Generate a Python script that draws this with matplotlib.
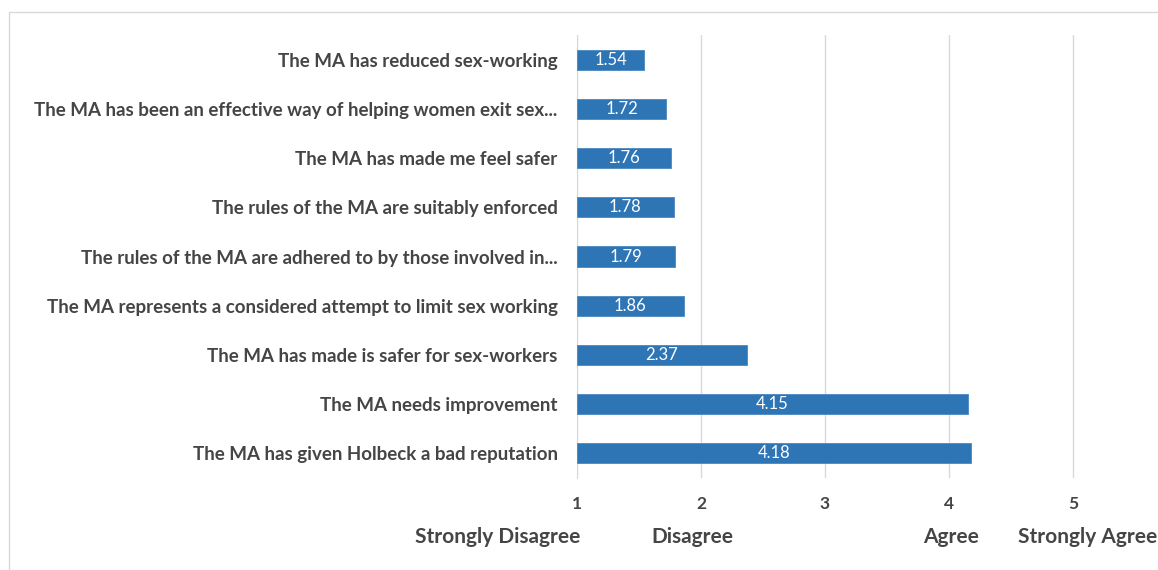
import numpy as np
import matplotlib.pyplot as plt
from matplotlib.patches import Rectangle
from matplotlib.transforms import blended_transform_factory

# Datos (de arriba hacia abajo)
afirmaciones = [
    "The MA has reduced sex-working",
    "The MA has been an effective way of helping women exit sex...",
    "The MA has made me feel safer",
    "The rules of the MA are suitably enforced",
    "The rules of the MA are adhered to by those involved in...",
    "The MA represents a considered attempt to limit sex working",
    "The MA has made is safer for sex-workers",
    "The MA needs improvement",
    "The MA has given Holbeck a bad reputation",
]
medias = np.array([1.54, 1.72, 1.76, 1.78, 1.79, 1.86, 2.37, 4.15, 4.18])
escala = [1, 2, 3, 4, 5]
etiquetas_escala = ["Strongly Disagree", "Disagree", "Agree", "Strongly Agree"]

gris = '#454545'
azul = '#2E75B6'
plt.rcParams['font.family'] = ['Lato', 'DejaVu Sans']
plt.rcParams['font.weight'] = 'bold'

fig = plt.figure(figsize=(11.58, 5.70), dpi=100)
W, H = 1158, 570
ax = fig.add_axes([577 / W, 1 - 478 / H, (W - 577) / W, (478 - 35) / H])

# Marco del gráfico
fig.patches.append(Rectangle((9 / W, -0.1), 1.2, 1.1 - 12 / H, transform=fig.transFigure,
                             fill=False, edgecolor='#D9D9D9', linewidth=1))

y = np.arange(len(medias))
barras = ax.barh(y, medias - 1, left=1, height=0.41, color=azul, edgecolor='#4A87C0', linewidth=0.6, zorder=3)
for yi, v in zip(y, medias):
    ax.text(1 + (v - 1) / 2, yi, f"{v:.2f}", ha='center', va='center', color='white',
            fontsize=12, fontweight='normal', zorder=4)

ax.set_xlim(1, 1 + (W - 577) / 124)
ax.set_ylim(len(medias) - 0.5, -0.5)
ax.set_xticks(escala)
ax.set_xticklabels([str(e) for e in escala], color=gris, fontsize=12.5, fontweight='bold')
ax.set_yticks(y)
ax.set_yticklabels(afirmaciones, color=gris, fontsize=13.5, fontweight='bold')
ax.tick_params(axis='x', length=0, pad=13)
ax.tick_params(axis='y', length=0, pad=14)
ax.grid(axis='x', color='#D9D9D9', linewidth=1, zorder=0)
for s in ['top', 'right', 'bottom']:
    ax.spines[s].set_visible(False)
ax.spines['left'].set_color('#D9D9D9')

tr = blended_transform_factory(ax.transData, fig.transFigure)
yt = 1 - 537 / H
ax.text(1.03, yt, etiquetas_escala[0], transform=tr, ha='right', va='center', color=gris, fontsize=15)
ax.text(1.93, yt, etiquetas_escala[1], transform=tr, ha='center', va='center', color=gris, fontsize=15)
ax.text(4.02, yt, etiquetas_escala[2], transform=tr, ha='center', va='center', color=gris, fontsize=15)
ax.text(4.56, yt, etiquetas_escala[3], transform=tr, ha='left', va='center', color=gris, fontsize=15)

fig.savefig('out.png', dpi=100)
